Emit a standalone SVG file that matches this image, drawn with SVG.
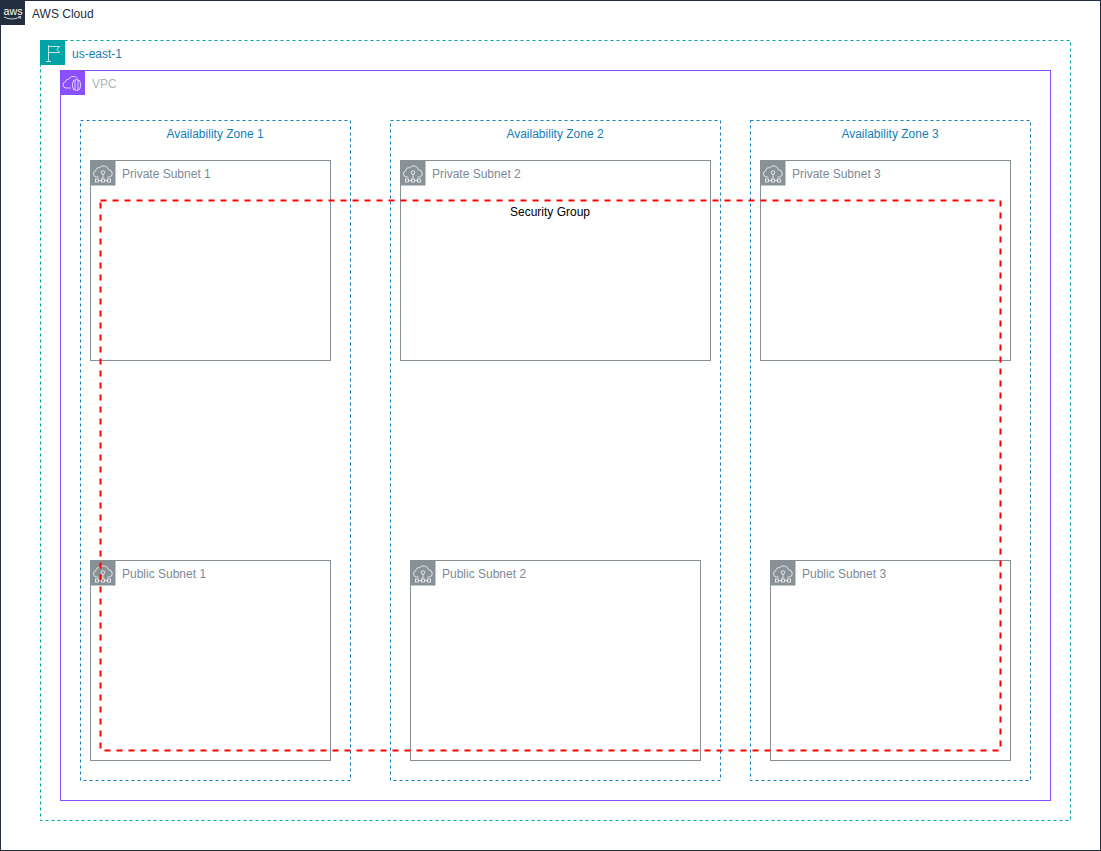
<svg xmlns="http://www.w3.org/2000/svg" width="1101" height="851" viewBox="0 0 1101 851">
<style>
text{font-family:Helvetica,"Liberation Sans",Arial,sans-serif;font-size:12px}
.box{fill:none;stroke-width:1}
.cloud{stroke:#232f3e}
.region{stroke:#00a4a6;stroke-dasharray:3 3}
.vpc{stroke:#8c4fff}
.az{stroke:#147eba;stroke-dasharray:3 3}
.subnet{stroke:#879196}
.sg{fill:none;stroke:#ff0000;stroke-width:2;stroke-dasharray:6 6}
.lab-sub{fill:#7d8998}
.lab-az{fill:#147eba}
.ic{fill:none;stroke:#fff;stroke-width:.75}
</style>
<defs>
<g id="subnet-icon">
<rect width="25" height="25" fill="#879196"/>
<path class="ic" d="M8 16.500h-2a3.200 3.200 0 0 1-.6-6.300a3.300 3.300 0 0 1 3.800-3a5 5 0 0 1 8.800 2.200a3.600 3.600 0 0 1 1 7.100h-2"/>
<circle class="ic" cx="12.500" cy="12" r="1.800"/>
<path class="ic" d="M12.500 13.800v4.700M8 20h3M14 20h3"/>
<rect class="ic" x="5" y="18.500" width="3" height="3"/>
<rect class="ic" x="11" y="18.500" width="3" height="3"/>
<rect class="ic" x="17" y="18.500" width="3" height="3"/>
</g>
</defs>
<rect width="1101" height="851" fill="#fff"/>
<g id="aws-cloud">
<rect class="box cloud" x="0.500" y="0.500" width="1100" height="850"/>
<rect x="0" y="0" width="25" height="25" fill="#232f3e"/>
<text x="3.500" y="15" fill="#fff" style="font-size:11px" textLength="19" lengthAdjust="spacingAndGlyphs">aws</text>
<path d="M4 17q8 4 16 0M18.500 16.500l2.500 .3-1 2.200" fill="none" stroke="#fff" stroke-width=".75"/>
<text x="32" y="18" fill="#232f3e">AWS Cloud</text>
</g>
<g id="region">
<rect class="box region" x="40.500" y="40.500" width="1030" height="780"/>
<rect x="40" y="40" width="25" height="25" fill="#00a4a6"/>
<path class="ic" d="M48.500 45v16.500M46 61.500h5M48.500 46.500h11l-2.500 3 2.500 3h-11"/>
<text x="72" y="58" fill="#147eba">us-east-1</text>
</g>
<g id="vpc">
<rect class="box vpc" x="60.500" y="70.500" width="990" height="730"/>
<rect x="60" y="70" width="25" height="25" fill="#8c4fff"/>
<path class="ic" d="M71 88h-5a3.200 3.200 0 0 1-.5-6.300a3.400 3.400 0 0 1 3.500-2.700a5 5 0 0 1 8.500-.5"/>
<rect class="ic" x="72.500" y="79.500" width="8" height="11" rx="4"/>
<path class="ic" d="M75 80v10M78 80v10"/>
<text x="92" y="88" fill="#aab7b8">VPC</text>
</g>
<g id="az-1">
<rect class="box az" x="80.500" y="120.500" width="270" height="660"/>
<text class="lab-az" x="215" y="138" text-anchor="middle">Availability Zone 1</text>
</g>
<g id="az-2">
<rect class="box az" x="390.500" y="120.500" width="330" height="660"/>
<text class="lab-az" x="555" y="138" text-anchor="middle">Availability Zone 2</text>
</g>
<g id="az-3">
<rect class="box az" x="750.500" y="120.500" width="280" height="660"/>
<text class="lab-az" x="890" y="138" text-anchor="middle">Availability Zone 3</text>
</g>
<g id="private-subnet-1">
<rect class="box subnet" x="90.500" y="160.500" width="240" height="200"/>
<use href="#subnet-icon" x="90.500" y="160.500"/>
<text class="lab-sub" x="122" y="178">Private Subnet 1</text>
</g>
<g id="private-subnet-2">
<rect class="box subnet" x="400.500" y="160.500" width="310" height="200"/>
<use href="#subnet-icon" x="400.500" y="160.500"/>
<text class="lab-sub" x="432" y="178">Private Subnet 2</text>
</g>
<g id="private-subnet-3">
<rect class="box subnet" x="760.500" y="160.500" width="250" height="200"/>
<use href="#subnet-icon" x="760.500" y="160.500"/>
<text class="lab-sub" x="792" y="178">Private Subnet 3</text>
</g>
<g id="public-subnet-1">
<rect class="box subnet" x="90.500" y="560.500" width="240" height="200"/>
<use href="#subnet-icon" x="90.500" y="560.500"/>
<text class="lab-sub" x="122" y="578">Public Subnet 1</text>
</g>
<g id="public-subnet-2">
<rect class="box subnet" x="410.500" y="560.500" width="290" height="200"/>
<use href="#subnet-icon" x="410.500" y="560.500"/>
<text class="lab-sub" x="442" y="578">Public Subnet 2</text>
</g>
<g id="public-subnet-3">
<rect class="box subnet" x="770.500" y="560.500" width="240" height="200"/>
<use href="#subnet-icon" x="770.500" y="560.500"/>
<text class="lab-sub" x="802" y="578">Public Subnet 3</text>
</g>
<g id="security-group">
<rect class="sg" x="100.500" y="200.500" width="900" height="550"/>
<text x="550" y="216" text-anchor="middle" fill="#000">Security Group</text>
</g>
<g id="connectors"></g>
</svg>
